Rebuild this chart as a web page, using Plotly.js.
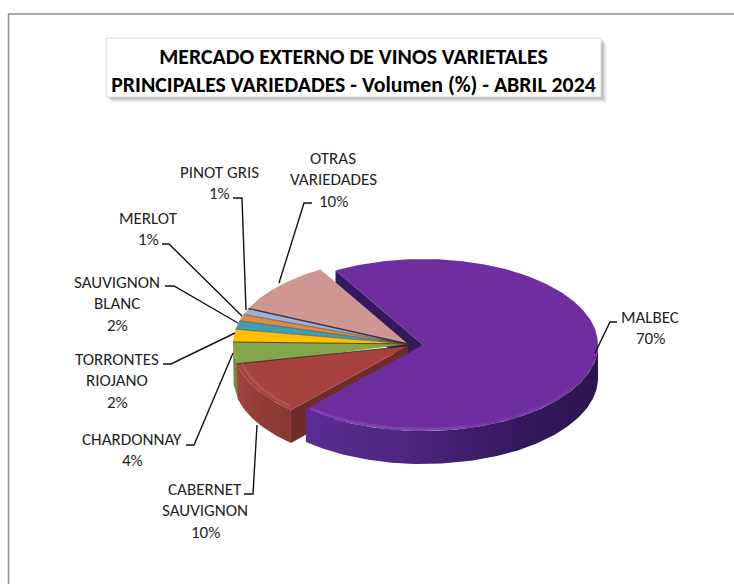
<!DOCTYPE html>
<html><head><meta charset="utf-8">
<script src="https://cdn.plot.ly/plotly-3.0.1.min.js"></script>
<style>html,body{margin:0;padding:0;background:#fff}#c{width:734px;height:584px}</style>
</head><body><div id="c"></div>
<script>
const categories = ["MALBEC","CABERNET SAUVIGNON","CHARDONNAY","TORRONTES RIOJANO","SAUVIGNON BLANC","MERLOT","PINOT GRIS","OTRAS VARIEDADES"];
const values = [70,10,3.7,2.4,1.6,1.2,1.2,9.9];
const topColors = ["#6F2E9F","#A5423F","#83A64C","#FFC000","#3F9DB6","#E08B3D","#9DB1D9","#D09694"];
const wallColors = ["#3A1D68","#8E3836","#6F8E3E","#C99800","#2F7C90","#B56E2E","#7F90B0","#A87876"];
const titleLines = ["MERCADO EXTERNO DE VINOS VARIETALES","PRINCIPALES VARIEDADES - Volumen (%) - ABRIL 2024"];
const labelLines = [["MALBEC"],["CABERNET","SAUVIGNON"],["CHARDONNAY"],["TORRONTES","RIOJANO"],["SAUVIGNON","BLANC"],["MERLOT"],["PINOT GRIS"],["OTRAS","VARIEDADES"]];

// pie projection
const A=175, B=86, H=33, START=-30, W=734, HT=584;
const base=[408,344];
const centres=values.map((v,i)=>i===0?[423,345]:(i===1?[408,346]:base));
const total=values.reduce((a,b)=>a+b,0);
let acc=START;
const ranges=values.map(v=>{const r=[acc,acc+v/total*360];acc=r[1];return r;});
const P=(c,d,z=0,k=1)=>{const t=d*Math.PI/180;return [c[0]+k*A*Math.sin(t),c[1]-k*B*Math.cos(t)+z];};
function arc(c,a,b,z=0,k=1){const n=Math.max(2,Math.ceil(Math.abs(b-a)));const o=[];for(let i=0;i<=n;i++)o.push(P(c,a+(b-a)*i/n,z,k));return o;}
function poly(pts,color,name,extra){return Object.assign({type:'scatter',mode:'lines',x:pts.map(p=>p[0]),y:pts.map(p=>p[1]),fill:'toself',fillcolor:color,line:{width:0,color:color},name:name,hoverinfo:'name',showlegend:false},extra||{});}
function stroke(pts,color,w,name){return {type:'scatter',mode:'lines',x:pts.map(p=>p[0]),y:pts.map(p=>p[1]),line:{color:color,width:w,shape:'linear'},hoverinfo:'skip',showlegend:false,name:name||''};}

const traces=[];
// inner wall of first slice (seen behind the neighbouring slices)
{const c=centres[0],s=ranges[0][0];const e=P(c,s);
 traces.push(poly([c,e,[e[0],e[1]+H],[c[0],c[1]+H]],"#331A5C",categories[0]));}
// the slice after the offset one is drawn slightly under it so no gap opens
const drawStart=i=>ranges[i][0]-(i===2?2.5:0);
const vis=(a,b)=>[Math.max(a,90),Math.min(b,270)];
for(let i=values.length-1;i>=1;i--){
  const c=centres[i],b=ranges[i][1],[va,vb]=vis(drawStart(i),b);
  if(vb>va){
    const up=arc(c,va,vb),dn=arc(c,vb,va,H);
    const ex=i===1?{fillgradient:{type:'horizontal',start:232,stop:295,colorscale:[[0,"#A5443F"],[0.55,"#8F3A36"],[1,"#8A3733"]]}}:{};
    traces.push(poly(up.concat(dn),wallColors[i],categories[i],ex));
  }
}
{const c=centres[1],a=ranges[1][0],e=P(c,a);
 traces.push(poly([e,c,[c[0],c[1]+H],[e[0],e[1]+H]],"#6E2C2A",categories[1]));}
for(let i=values.length-1;i>=1;i--){
  const c=centres[i],b=ranges[i][1];
  traces.push(poly([c].concat(arc(c,drawStart(i),b)),topColors[i],categories[i]));
}
// slice separations
for(let i=2;i<values.length;i++){
  const c=i===2?centres[1]:centres[i],a=ranges[i][0];
  traces.push(stroke([c,P(c,a)],i===2||i===3?"rgba(70,50,20,.85)":"rgba(70,60,60,.55)",1.1));
}
traces.push(stroke([base,P(base,ranges[7][0])],"rgba(60,50,60,.9)",1.3));
// rim highlight on lower-left slice
traces.push(stroke(arc(centres[1],ranges[1][0]+2,ranges[1][1],0,0.97),"rgba(200,100,90,.45)",3));
// main slice
{const c=centres[0],[a,b]=ranges[0];
 const wa=90,wb=b;
 traces.push(poly(arc(c,wa,wb).concat(arc(c,wb,wa,H)),wallColors[0],categories[0],{fillgradient:{type:'horizontal',start:305,stop:597,colorscale:[[0,"#5C2C96"],[0.35,"#4C267E"],[0.7,"#36195F"],[1,"#2B154F"]]}}));
 traces.push(poly([c].concat(arc(c,a,b)),topColors[0],categories[0]));
 traces.push(stroke(arc(c,b-1,165,0,0.98),"rgba(150,95,205,.4)",3));
 traces.push(stroke(arc(c,165,120,0,0.985),"rgba(140,90,190,.22)",3));
}

// label anchors (layout only): centre x, first-line y, percent follows on the last line
const labelAnchors=[[650,317],[205,489],[132,439],[117,359],[117,282],[148,218],[219,172],[333,158]];
const leaders=[
 [[617,322],[610,322],[595,353]],
 [[244,494],[253,494],[257,425]],
 [[186,445],[194,445],[233,353]],
 [[163,364],[171,364],[235,333]],
 [[165,286],[174,286],[238,323]],
 [[162,244],[169,244],[242,316]],
 [[233,198],[242,198],[246,310]],
 [[312,203],[304,203],[279,283]]];
leaders.forEach((l,i)=>traces.push(stroke(l,"#111",1.4,'leader '+categories[i])));

const FONT="Carlito, Calibri, Lato, sans-serif";
const annotations=[];
labelLines.forEach((ls,i)=>{
  const lines=ls.concat([Math.round(values[i])+"%"]);
  lines.forEach((t,j)=>annotations.push({xref:'x',yref:'y',x:labelAnchors[i][0],y:labelAnchors[i][1]+j*21.5,text:t,showarrow:false,xanchor:'center',yanchor:'middle',font:{family:FONT,size:17,color:'#1f1f1f'}}));
});

const shapes=[
 {type:'line',xref:'x',yref:'y',x0:8.5,x1:8.5,y0:14,y1:584,line:{color:'#8f8f8f',width:1.5}},
 {type:'line',xref:'x',yref:'y',x0:8,x1:734,y0:14,y1:14,line:{color:'#8f8f8f',width:1.5}}];
[[6,.05],[5,.07],[4,.09],[3,.12],[2,.14]].forEach(s=>shapes.push({type:'rect',xref:'x',yref:'y',layer:'below',x0:106+s[0],x1:601+s[0],y0:38+s[0],y1:97+s[0],fillcolor:'rgba(90,90,90,'+s[1]+')',line:{width:0}}));
shapes.push({type:'rect',xref:'x',yref:'y',layer:'below',x0:106,x1:601,y0:38,y1:97,fillcolor:'#fff',line:{color:'#dcdcdc',width:1}});

Plotly.newPlot('c',traces,{
  width:W,height:HT,margin:{l:0,r:0,t:0,b:0},paper_bgcolor:'#fff',plot_bgcolor:'rgba(0,0,0,0)',showlegend:false,
  title:{text:titleLines.join('<br>'),x:353.5/W,xanchor:'center',y:1-64/HT,yanchor:'top',font:{family:FONT,size:21.8,color:'#000',weight:700}},
  xaxis:{range:[0,W],visible:false,fixedrange:true},
  yaxis:{range:[HT,0],visible:false,fixedrange:true},
  shapes,annotations
},{displayModeBar:false});
</script></body></html>
